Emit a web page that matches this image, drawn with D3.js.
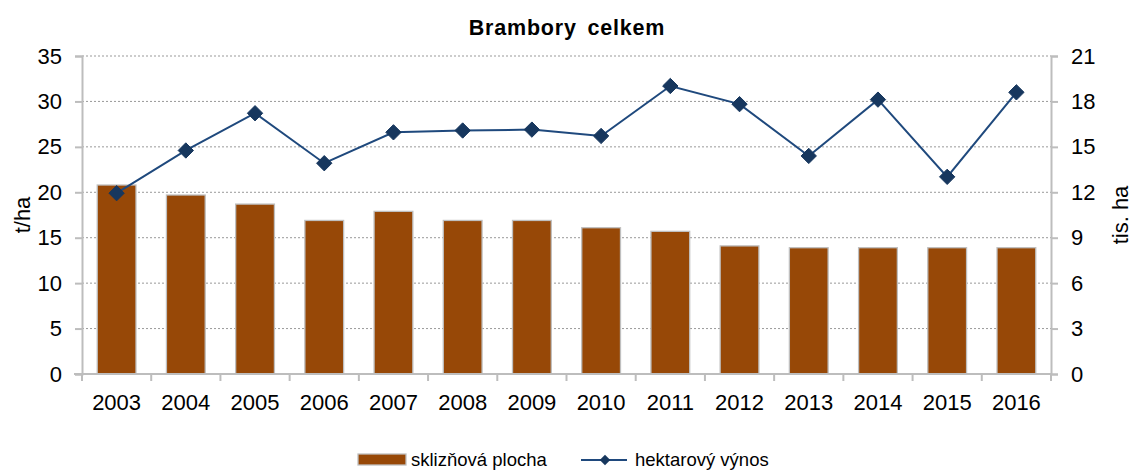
<!DOCTYPE html>
<html lang="cs">
<head>
<meta charset="utf-8">
<script src="https://d3js.org/d3.v7.min.js"></script>
<style>
  body { margin: 0; background: #fff; }
  text { font-family: "Liberation Sans", Arial, sans-serif; fill: #000; }
</style>
</head>
<body>
<script>
// data
var years = ["2003","2004","2005","2006","2007","2008","2009","2010","2011","2012","2013","2014","2015","2016"];
var plocha = [20.8, 19.7, 18.7, 16.9, 17.9, 16.9, 16.9, 16.1, 15.7, 14.1, 13.9, 13.9, 13.9, 13.9];
var vynos = [19.9, 24.6, 28.7, 23.2, 26.6, 26.8, 26.9, 26.2, 31.7, 29.7, 24.0, 30.2, 21.7, 31.0];
var leftTicks = [0, 5, 10, 15, 20, 25, 30, 35];
var rightTicks = [0, 3, 6, 9, 12, 15, 18, 21];

var width = 1132, height = 470;
var margin = {left: 82, right: 81, top: 56, bottom: 96};

var svg = d3.select("body").append("svg")
  .attr("width", width)
  .attr("height", height);

var x = d3.scaleBand()
  .domain(years)
  .range([margin.left, width - margin.right]);

var y = d3.scaleLinear().domain([0, 35]).range([height - margin.bottom, margin.top]);
var y2 = d3.scaleLinear().domain([0, 21]).range([height - margin.bottom, margin.top]);

// gridlines
svg.append("g").selectAll("line")
  .data(leftTicks.slice(1))
  .enter().append("line")
  .attr("x1", margin.left).attr("x2", width - margin.right)
  .attr("y1", d => y(d)).attr("y2", d => y(d))
  .attr("stroke", "#999").attr("stroke-width", 1)
  .attr("stroke-dasharray", "2,2");

// bars
var bw = x.bandwidth() * 0.56;
svg.append("g").selectAll("rect")
  .data(plocha)
  .enter().append("rect")
  .attr("x", (d, i) => x(years[i]) + (x.bandwidth() - bw) / 2)
  .attr("y", d => y(d))
  .attr("width", bw)
  .attr("height", d => y(0) - y(d))
  .attr("fill", "#974807")
  .attr("stroke", "#bfbfbf")
  .attr("stroke-width", 1.3);

// axes
var axColor = "#bdbdbd";
var gl = svg.append("g").attr("transform", "translate(" + margin.left + ",0)")
  .call(d3.axisLeft(y).tickValues(leftTicks).tickSize(7));
var gr = svg.append("g").attr("transform", "translate(" + (width - margin.right) + ",0)")
  .call(d3.axisRight(y2).tickValues(rightTicks).tickSize(7));
[gl, gr].forEach(function(g) {
  g.select(".domain").attr("stroke", axColor).attr("stroke-width", 2);
  g.selectAll(".tick line").attr("stroke", axColor).attr("stroke-width", 2);
  g.selectAll(".tick text").attr("font-size", 22).attr("font-family", "Liberation Sans, Arial, sans-serif");
});
gl.selectAll(".tick text").attr("x", -20);
gr.selectAll(".tick text").attr("x", 20);

// x axis
var gx = svg.append("g").attr("transform", "translate(0," + y(0) + ")");
gx.append("line")
  .attr("x1", margin.left - 8).attr("x2", width - margin.right)
  .attr("stroke", axColor).attr("stroke-width", 2);
gx.selectAll("line.tk")
  .data(years.concat(["end"]))
  .enter().append("line")
  .attr("class", "tk")
  .attr("x1", (d, i) => margin.left + i * x.step())
  .attr("x2", (d, i) => margin.left + i * x.step())
  .attr("y1", 0).attr("y2", 7)
  .attr("stroke", axColor).attr("stroke-width", 2);
gx.selectAll("text")
  .data(years)
  .enter().append("text")
  .attr("x", d => x(d) + x.bandwidth() / 2)
  .attr("y", 36)
  .attr("text-anchor", "middle")
  .attr("font-size", 22)
  .text(d => d);

// line
var line = d3.line()
  .x((d, i) => x(years[i]) + x.bandwidth() / 2)
  .y(d => y(d));
svg.append("path")
  .datum(vynos)
  .attr("d", line)
  .attr("fill", "none")
  .attr("stroke", "#1f497d")
  .attr("stroke-width", 2);

var diamond = d3.symbol().type(d3.symbolDiamond2).size(150);
svg.append("g").selectAll("path")
  .data(vynos)
  .enter().append("path")
  .attr("d", diamond)
  .attr("transform", (d, i) => "translate(" + (x(years[i]) + x.bandwidth() / 2) + "," + y(d) + ")")
  .attr("fill", "#17375e")
  .attr("stroke", "#17375e")
  .attr("stroke-width", 1);

// title
svg.append("text")
  .attr("x", 567).attr("y", 35)
  .attr("text-anchor", "middle")
  .attr("font-size", 21.5)
  .attr("font-weight", "bold")
  .attr("letter-spacing", 0.8)
  .attr("word-spacing", 4)
  .text("Brambory celkem");

// axis titles
svg.append("text")
  .attr("transform", "translate(30," + ((margin.top + y(0)) / 2) + ") rotate(-90)")
  .attr("text-anchor", "middle")
  .attr("font-size", 22)
  .text("t/ha");
svg.append("text")
  .attr("transform", "translate(1128," + ((margin.top + y(0)) / 2) + ") rotate(-90)")
  .attr("text-anchor", "middle")
  .attr("font-size", 22)
  .text("tis. ha");

// legend
var lg = svg.append("g").attr("transform", "translate(0,460)");
lg.append("rect")
  .attr("x", 358).attr("y", -6).attr("width", 48).attr("height", 11)
  .attr("fill", "#974807").attr("stroke", "#bfbfbf").attr("stroke-width", 1.3);
lg.append("text")
  .attr("x", 411).attr("y", 6)
  .attr("font-size", 18.5)
  .text("sklizňová plocha");
lg.append("line")
  .attr("x1", 581).attr("x2", 627).attr("y1", 0).attr("y2", 0)
  .attr("stroke", "#1f497d").attr("stroke-width", 2);
lg.append("path")
  .attr("d", d3.symbol().type(d3.symbolDiamond2).size(70))
  .attr("transform", "translate(605,0)")
  .attr("fill", "#17375e");
lg.append("text")
  .attr("x", 635).attr("y", 6)
  .attr("font-size", 18.5)
  .text("hektarový výnos");
</script>
</body>
</html>
